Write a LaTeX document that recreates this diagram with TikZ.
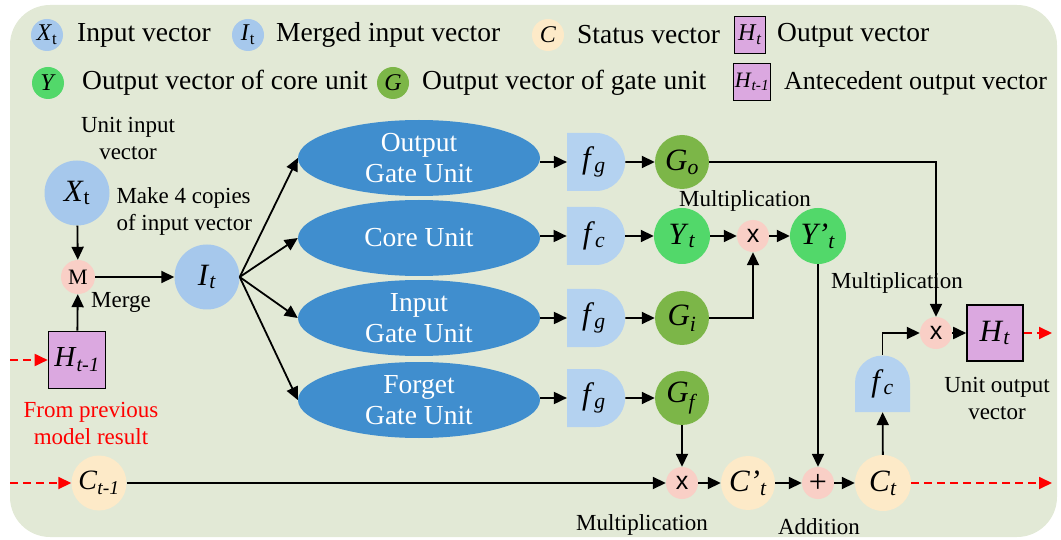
\documentclass[tikz,border=0pt]{standalone}
\usepackage{fontspec}
\setmainfont{Liberation Serif}
\newfontfamily\opsans{Liberation Sans}
\usetikzlibrary{arrows.meta,positioning,shapes.geometric,shapes.misc}

\definecolor{bgcol}{RGB}{226,233,214}
\definecolor{inblue}{RGB}{166,200,236}
\definecolor{unitblue}{RGB}{64,142,206}
\definecolor{actblue}{RGB}{180,210,240}
\definecolor{coregreen}{RGB}{82,216,106}
\definecolor{gategreen}{RGB}{124,182,72}
\definecolor{oppink}{RGB}{249,207,198}
\definecolor{statecol}{RGB}{253,234,200}
\definecolor{outpurple}{RGB}{219,168,224}

\newcommand{\vsub}[2]{\textit{#1}\textsubscript{#2}}
\newcommand{\bigtxt}{\fontsize{27.5}{31}\selectfont}
\newcommand{\smalltxt}{\fontsize{23}{27}\selectfont}
\newcommand{\lab}{\fontsize{31}{33}\selectfont}
\newcommand{\leglab}{\fontsize{24}{26}\selectfont}

\begin{document}
\begin{tikzpicture}[x=1pt, y=-1pt]

    \tikzstyle{vec}=[circle, inner sep=0pt, font=\lab];
    \tikzstyle{legvec}=[circle, inner sep=0pt, minimum size=32pt, font=\leglab];
    \tikzstyle{legtxt}=[anchor=west, inner sep=0pt, font=\bigtxt];
    \tikzstyle{op}=[circle, fill=oppink, minimum size=32pt, inner sep=0pt, font=\opsans\fontsize{25}{27}\selectfont];
    \tikzstyle{unit}=[ellipse, fill=unitblue, minimum width=242pt, minimum height=76pt, inner sep=0pt, align=center, text=white, font=\bigtxt];
    \tikzstyle{act}=[rounded rectangle, rounded rectangle left arc=none, fill=actblue, minimum width=58pt, minimum height=58pt, inner sep=0pt, font=\lab];
    \tikzstyle{hbox}=[rectangle, draw=black, line width=1.6pt, fill=outpurple, inner sep=0pt];
    \tikzstyle{note}=[align=center, font=\smalltxt];
    \tikzstyle{arr}=[line width=1.8pt, -{Triangle[length=13pt, width=12pt]}];
    \tikzstyle{carry}=[red, line width=1.8pt, dash pattern=on 8pt off 5pt, -{Triangle[length=13pt, width=12pt]}];

    \useasboundingbox (0,0) rectangle (1061,540);
    \fill[bgcol, rounded corners=40pt] (10,5) rectangle (1057,537);

    % legend
    \node[legvec, fill=inblue] (lgX) at (47,35) {\vsub{X}{t}};
    \node[legtxt] (lgXt) at (77,35) {Input vector};
    \node[legvec, fill=inblue] (lgI) at (248,35) {\vsub{I}{t}};
    \node[legtxt] (lgIt) at (276,35) {Merged input vector};
    \node[legvec, fill=statecol] (lgC) at (548,35) {\textit{C}};
    \node[legtxt] (lgCt) at (577,35) {Status vector};
    \node[hbox, minimum width=31pt, minimum height=37pt, font=\leglab] (lgH) at (750,35) {\vsub{H}{\textit{t}}};
    \node[legtxt] (lgHt) at (777,35) {Output vector};
    \node[legvec, fill=coregreen] (lgY) at (48,83) {\textit{Y}};
    \node[legtxt] (lgYt) at (82,83) {Output vector of core unit};
    \node[legvec, fill=gategreen] (lgG) at (393,83) {\textit{G}};
    \node[legtxt] (lgGt) at (422,83) {Output vector of gate unit};
    \node[hbox, minimum size=37pt, font=\fontsize{22}{24}\selectfont] (lgHp) at (752,82) {\vsub{H}{\textit{t-1}}};
    \node[legtxt, font=\fontsize{26}{30}\selectfont] (lgHpt) at (784,83) {Antecedent output vector};

    % input side
    \node[vec, fill=inblue, minimum size=65pt] (Xt) at (77,193) {\vsub{X}{t}};
    \node[op, minimum size=34pt, font=\fontsize{22}{24}\selectfont] (M) at (78,277) {M};
    \node[vec, fill=inblue, minimum size=65pt] (It) at (207,277) {\vsub{I}{\textit{t}}};
    \node[hbox, minimum size=57pt, font=\fontsize{29}{31}\selectfont] (Hp) at (77,360) {\vsub{H}{\textit{t-1}}};
    \node[vec, fill=statecol, minimum size=55pt, font=\fontsize{28}{30}\selectfont] (Cprev) at (99,483) {\vsub{C}{\textit{t-1}}};

    \node[note] (uin) at (128,138) {Unit input\\vector};
    \node[note, align=left, anchor=west] (copy) at (113,211) {Make 4 copies\\of input vector};
    \node[note] (merge) at (121,302) {Merge};
    \node[note, text=red] (prev) at (91,423) {From previous\\model result};

    % units
    \node[unit] (og) at (419,158) {Output\\Gate Unit};
    \node[unit] (cu) at (419,238) {Core Unit};
    \node[unit] (ig) at (419,318) {Input\\Gate Unit};
    \node[unit] (fgu) at (419,400) {Forget\\Gate Unit};

    \node[act] (fo) at (594,162) {\vsub{f}{\textit{g}}};
    \node[act] (fcc) at (594,236) {\vsub{f}{\textit{c}}};
    \node[act] (fi) at (594,318) {\vsub{f}{\textit{g}}};
    \node[act] (ff) at (594,398) {\vsub{f}{\textit{g}}};

    \node[vec, fill=gategreen, minimum size=54pt] (Go) at (682,162) {\vsub{G}{\textit{o}}};
    \node[vec, fill=coregreen, minimum size=56pt] (Yt) at (682,236) {\vsub{Y}{\textit{t}}};
    \node[vec, fill=gategreen, minimum size=54pt] (Gi) at (682,318) {\vsub{G}{\textit{i}}};
    \node[vec, fill=gategreen, minimum size=54pt] (Gf) at (682,398) {\vsub{G}{\textit{f}}};

    % output side
    \node[op] (mx1) at (753,236) {x};
    \node[vec, fill=coregreen, minimum size=56pt] (Yp) at (818,236) {\textit{Y'}\textsubscript{\textit{t}}};
    \node[op] (mx2) at (936,333) {x};
    \node[hbox, minimum size=56pt, font=\lab] (Ht) at (995,333) {\vsub{H}{\textit{t}}};

    \fill[actblue] (855,412) -- (855,383) arc[start angle=180, end angle=360, radius=27.5] -- (910,412) -- cycle;
    \node[minimum width=55pt, minimum height=57pt, inner sep=0pt, font=\lab] (fc2) at (882.5,383.5) {\vsub{f}{\textit{c}}};

    \node[op] (mx3) at (682,483) {x};
    \node[vec, fill=statecol, minimum size=54pt] (Cp) at (748,483) {\textit{C’}\textsubscript{\textit{t}}};
    \node[op, font=\fontsize{32}{32}\selectfont] (plus) at (818,483) {+};
    \node[vec, fill=statecol, minimum size=56pt] (Ct) at (883,483) {\vsub{C}{\textit{t}}};

    \node[note] (mul1) at (745,201) {Multiplication};
    \node[note] (mul2) at (897,283) {Multiplication};
    \node[note] (mul3) at (642,525) {Multiplication};
    \node[note] (add) at (819,527) {Addition};
    \node[note] (uout) at (997,398) {Unit output\\vector};

    \coordinate (inH) at (10,360);
    \coordinate (inC) at (10,483);
    \coordinate (outH) at (1052,333);
    \coordinate (outC) at (1052,483);

    % connectors
    \draw[arr] (Xt) -- (M);
    \draw[arr] (Hp) -- (M);
    \draw[arr] (M) -- (It);
    \foreach \u in {og, cu, ig, fgu}
        \draw[arr] (It.east) -- (\u.west);
    \foreach \u/\f/\g in {og/fo/Go, cu/fcc/Yt, ig/fi/Gi, fgu/ff/Gf} {
        \draw[arr] (\u.east |- \f) -- (\f);
        \draw[arr] (\f) -- (\g);
    }
    \draw[arr] (Yt) -- (mx1);
    \draw[arr] (mx1) -- (Yp);
    \draw[arr] (Gi) -| (mx1);
    \draw[arr] (Go) -| (mx2);
    \draw[arr] (Yp) -- (plus);
    \draw[arr] (Gf) -- (mx3);
    \draw[arr] (Cprev) -- (mx3);
    \draw[arr] (mx3) -- (Cp);
    \draw[arr] (Cp) -- (plus);
    \draw[arr] (plus) -- (Ct);
    \draw[arr] (Ct) -- (fc2);
    \draw[arr] (fc2) |- (mx2);
    \draw[arr] (mx2) -- (Ht);

    \draw[carry] (inH) -- (Hp);
    \draw[carry] (inC) -- (Cprev);
    \draw[carry] (Ht) -- (outH);
    \draw[carry] (Ct) -- (outC);
\end{tikzpicture}
\end{document}
